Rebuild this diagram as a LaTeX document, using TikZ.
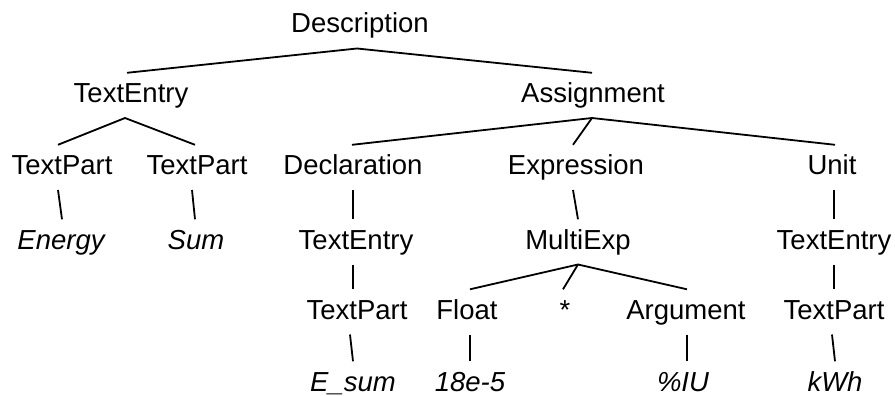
\documentclass[tikz,border=0pt]{standalone}
\usepackage{fontspec}
\setmainfont{Liberation Sans}
\begin{document}
\begin{tikzpicture}[x=1pt,y=-1pt,
  lbl/.style={anchor=base,inner sep=0pt,outer xsep=0pt,outer ysep=10pt,
    text height=19.7pt,text depth=5.5pt,font=\fontsize{27.5}{33}\selectfont},
  leaf/.style={lbl,font=\fontsize{27.5}{33}\selectfont\itshape},
  conn/.style={line width=1.8pt,black}]
\useasboundingbox (0,0) rectangle (895,396);
% level 0
\node[lbl] (desc) at (360,33) {Description};
% level 1
\node[lbl] (te1) at (131,102.5) {TextEntry};
\node[lbl] (asg) at (593,102.5) {Assignment};
% level 2
\node[lbl] (tp1) at (62,174.5) {TextPart};
\node[lbl] (tp2) at (197,174.5) {TextPart};
\node[lbl] (decl) at (353,174.5) {Declaration};
\node[lbl] (expr) at (576,174.5) {Expression};
\node[lbl] (unit) at (832,174.5) {Unit};
% level 3
\node[leaf] (energy) at (61,249) {Energy};
\node[leaf] (sum) at (196,249) {Sum};
\node[lbl] (te2) at (356,249) {TextEntry};
\node[lbl] (mexp) at (578,249) {MultiExp};
\node[lbl] (te3) at (834,249) {TextEntry};
% level 4
\node[lbl] (tp3) at (357,319) {TextPart};
\node[lbl] (flt) at (467,319) {Float};
\node[lbl] (star) at (565,319) {*};
\node[lbl] (arg) at (686,319) {Argument};
\node[lbl] (tp4) at (834,319) {TextPart};
% level 5
\node[leaf] (esum) at (353,391) {E\_sum};
\node[leaf] (num) at (470,391) {18e-5};
\node[leaf] (iu) at (683,391) {\%IU};
\node[leaf] (kwh) at (835,391) {kWh};
% connectors
\draw[conn] ([xshift=-4pt]te1.north) -- ([xshift=-3pt]desc.south) -- ([xshift=-1pt]asg.north);
\draw[conn] ([xshift=-4pt]tp1.north) -- ([xshift=-6pt]te1.south) -- ([xshift=-2pt]tp2.north);
\draw[conn] ([xshift=-1pt]decl.north) -- ([xshift=-1pt]asg.south) -- ([xshift=3pt]unit.north);
\draw[conn] ([xshift=-1pt]asg.south) -- ([xshift=-3pt]expr.north);
\draw[conn] ([xshift=-4pt]tp1.south) -- ([xshift=1pt]energy.north);
\draw[conn] ([xshift=-5pt]tp2.south) -- ([xshift=-1pt]sum.north);
\draw[conn] (decl.south) -- ([xshift=-3pt]te2.north);
\draw[conn] ([xshift=-3pt]te2.south) -- ([xshift=-4pt]tp3.north);
\draw[conn] ([xshift=-7pt]tp3.south) -- (esum.north);
\draw[conn] ([xshift=-3pt]expr.south) -- (mexp.north);
\draw[conn] ([xshift=2pt]unit.south) -- (te3.north);
\draw[conn] (te3.south) -- (tp4.north);
\draw[conn] ([xshift=-2pt]tp4.south) -- (kwh.north);
\draw[conn] ([xshift=3pt]flt.north) -- (mexp.south) -- ([xshift=1pt]arg.north);
\draw[conn] (mexp.south) -- ([xshift=-2pt]star.north);
\draw[conn] ([xshift=3pt]flt.south) -- (num.north);
\draw[conn] ([xshift=1pt]arg.south) -- ([xshift=4pt]iu.north);
\end{tikzpicture}
\end{document}
